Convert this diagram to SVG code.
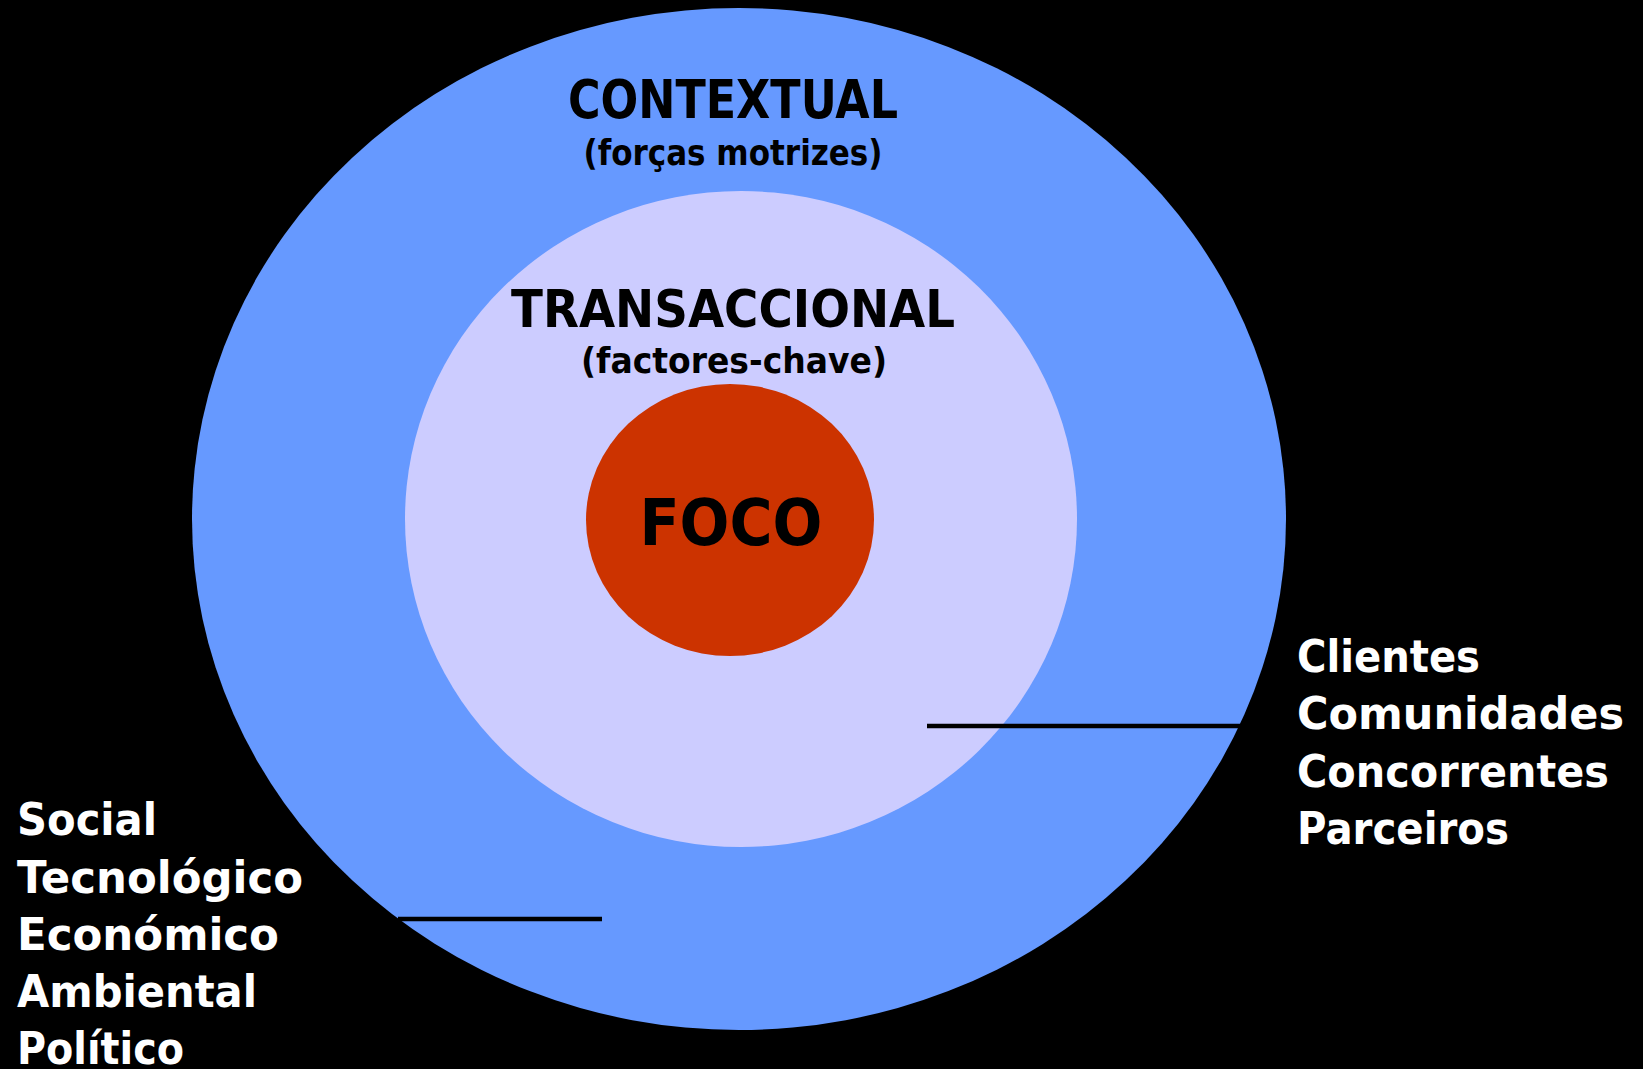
<svg xmlns="http://www.w3.org/2000/svg" width="1643" height="1069" viewBox="0 0 1643 1069">
<style>
.t{font-family:"DejaVu Sans","Liberation Sans",sans-serif;font-weight:bold;}
.dark{fill:#000000;}
.light{fill:#FFFFFF;}
.lbl{font-size:44px;}
.conn{stroke:#000000;stroke-width:4.5;fill:none;}
</style>
<rect x="0" y="0" width="1643" height="1069" fill="#000000"/>
<g id="contextual">
<ellipse cx="739" cy="519" rx="547" ry="511" fill="#6699FF"/>
<text class="t dark" x="733" y="118" font-size="54" text-anchor="middle" textLength="330" lengthAdjust="spacingAndGlyphs">CONTEXTUAL</text>
<text class="t dark" x="733" y="165" font-size="35" text-anchor="middle" textLength="299" lengthAdjust="spacingAndGlyphs">(forças motrizes)</text>
</g>
<g id="transaccional">
<ellipse cx="741" cy="519" rx="336" ry="328" fill="#CCCCFF"/>
<text class="t dark" x="733" y="327" font-size="52" text-anchor="middle" textLength="444" lengthAdjust="spacingAndGlyphs">TRANSACCIONAL</text>
<text class="t dark" x="734" y="373" font-size="35" text-anchor="middle" textLength="306" lengthAdjust="spacingAndGlyphs">(factores-chave)</text>
</g>
<g id="foco">
<ellipse cx="730" cy="520" rx="144" ry="136" fill="#CC3300"/>
<text class="t dark" x="731" y="545" font-size="64" text-anchor="middle" textLength="183" lengthAdjust="spacingAndGlyphs">FOCO</text>
</g>
<g id="connectors">
<line class="conn" x1="927" y1="726" x2="1240" y2="726"/>
<line class="conn" x1="398" y1="919" x2="602" y2="919"/>
</g>
<g id="transaccional-items">
<text class="t light lbl" x="1297" y="672" textLength="183" lengthAdjust="spacingAndGlyphs">Clientes</text>
<text class="t light lbl" x="1297" y="729" textLength="327" lengthAdjust="spacingAndGlyphs">Comunidades</text>
<text class="t light lbl" x="1297" y="787" textLength="312" lengthAdjust="spacingAndGlyphs">Concorrentes</text>
<text class="t light lbl" x="1297" y="844" textLength="212" lengthAdjust="spacingAndGlyphs">Parceiros</text>
</g>
<g id="contextual-items">
<text class="t light lbl" x="17" y="835" textLength="140" lengthAdjust="spacingAndGlyphs">Social</text>
<text class="t light lbl" x="17" y="893" textLength="286" lengthAdjust="spacingAndGlyphs">Tecnológico</text>
<text class="t light lbl" x="17" y="950" textLength="262" lengthAdjust="spacingAndGlyphs">Económico</text>
<text class="t light lbl" x="17" y="1007" textLength="240" lengthAdjust="spacingAndGlyphs">Ambiental</text>
<text class="t light lbl" x="17" y="1064" textLength="167" lengthAdjust="spacingAndGlyphs">Político</text>
</g>
</svg>
